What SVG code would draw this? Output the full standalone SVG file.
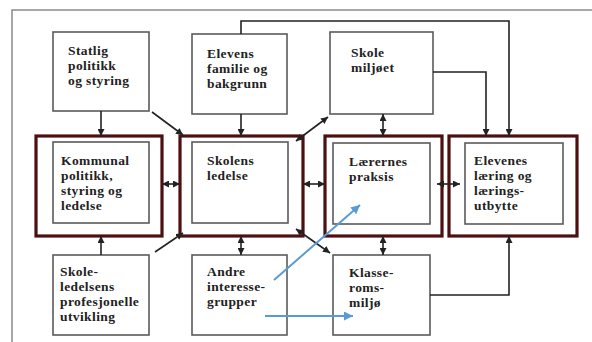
<svg xmlns="http://www.w3.org/2000/svg" width="592" height="342" viewBox="0 0 592 342">
<style>
.box{fill:#fff;stroke:#5a5a5a;stroke-width:1.6}
.outer{fill:#fff;stroke:#4d1010;stroke-width:3.2}
.t{font-family:"Liberation Serif","Times New Roman",serif;font-weight:bold;font-size:13.5px;letter-spacing:0.4px;fill:#222}
.c{fill:none;stroke:#222;stroke-width:1.6}
.b{fill:none;stroke:#5b9bd5;stroke-width:2}
</style>
<defs>
<marker id="a" viewBox="0 0 8 8" refX="8" refY="4" markerWidth="7" markerHeight="7" markerUnits="userSpaceOnUse" orient="auto-start-reverse"><path d="M0,0 L8,4 L0,8 z" fill="#222"/></marker>
<marker id="ab" viewBox="0 0 8 8" refX="8" refY="4" markerWidth="9" markerHeight="9" markerUnits="userSpaceOnUse" orient="auto"><path d="M0,0 L8,4 L0,8 z" fill="#5b9bd5"/></marker>
</defs>
<rect width="592" height="342" fill="#fff"/>
<path d="M12,345 V10 H595" fill="none" stroke="#8a8a8a" stroke-width="1.5"/>

<g id="statlig"><rect class="box" x="53" y="32" width="96" height="79"/><text class="t"><tspan x="68" y="55">Statlig</tspan><tspan x="68" y="70">politikk</tspan><tspan x="68" y="85">og styring</tspan></text></g>
<g id="familie"><rect class="box" x="192" y="34" width="95" height="80"/><text class="t"><tspan x="207" y="58">Elevens</tspan><tspan x="207" y="73">familie og</tspan><tspan x="207" y="88">bakgrunn</tspan></text></g>
<g id="skolemiljo"><rect class="box" x="330" y="32" width="103" height="82"/><text class="t"><tspan x="351" y="57">Skole</tspan><tspan x="351" y="72">miljøet</tspan></text></g>

<g id="kommunal"><rect class="outer" x="36" y="136" width="126" height="100"/><rect class="box" x="53" y="142" width="96" height="81"/><text class="t"><tspan x="61" y="165">Kommunal</tspan><tspan x="61" y="180">politikk,</tspan><tspan x="61" y="195">styring og</tspan><tspan x="61" y="210">ledelse</tspan></text></g>
<g id="skolens"><rect class="outer" x="180" y="136" width="123" height="100"/><rect class="box" x="192" y="142" width="96" height="81"/><text class="t"><tspan x="207" y="165">Skolens</tspan><tspan x="207" y="180">ledelse</tspan></text></g>
<g id="laerernes"><rect class="outer" x="325" y="136" width="117" height="100"/><rect class="box" x="333" y="143" width="97" height="81"/><text class="t"><tspan x="349" y="166">Lærernes</tspan><tspan x="349" y="181">praksis</tspan></text></g>
<g id="elevenes"><rect class="outer" x="449" y="136" width="128" height="100"/><rect class="box" x="465" y="143" width="98" height="81"/><text class="t"><tspan x="474" y="165">Elevenes</tspan><tspan x="474" y="180">læring og</tspan><tspan x="474" y="195">lærings-</tspan><tspan x="474" y="210">utbytte</tspan></text></g>

<g id="skoleledelsens"><rect class="box" x="53" y="255" width="96" height="80"/><text class="t"><tspan x="60" y="276">Skole-</tspan><tspan x="60" y="291">ledelsens</tspan><tspan x="60" y="306">profesjonelle</tspan><tspan x="60" y="321">utvikling</tspan></text></g>
<g id="andre"><rect class="box" x="192" y="255" width="95" height="80"/><text class="t"><tspan x="207" y="276">Andre</tspan><tspan x="207" y="291">interesse-</tspan><tspan x="207" y="306">grupper</tspan></text></g>
<g id="klasse"><rect class="box" x="333" y="255" width="97" height="80"/><text class="t"><tspan x="349" y="277">Klasse-</tspan><tspan x="349" y="292">roms-</tspan><tspan x="349" y="307">miljø</tspan></text></g>

<g id="connectors">
<path class="c" d="M101,111 V136" marker-end="url(#a)"/>
<path class="c" d="M152,112 L183,135" marker-end="url(#a)"/>
<path class="c" d="M241,114 V136" marker-end="url(#a)"/>
<path class="c" d="M241,34 V21 H509 V136" marker-end="url(#a)"/>
<path class="c" d="M433,72 H486 V136" marker-end="url(#a)"/>
<path class="c" d="M162,184 H180" marker-start="url(#a)" marker-end="url(#a)"/>
<path class="c" d="M303,184 H325" marker-start="url(#a)" marker-end="url(#a)"/>
<path class="c" d="M437,184 H460" marker-start="url(#a)" marker-end="url(#a)"/>
<path class="c" d="M296,141 L328,117" marker-start="url(#a)" marker-end="url(#a)"/>
<path class="c" d="M383,114 V136" marker-start="url(#a)" marker-end="url(#a)"/>
<path class="c" d="M101,255 V236" marker-end="url(#a)"/>
<path class="c" d="M155,252 L183,233" marker-end="url(#a)"/>
<path class="c" d="M241,236 V255" marker-start="url(#a)" marker-end="url(#a)"/>
<path class="c" d="M296,229 L330,253" marker-start="url(#a)" marker-end="url(#a)"/>
<path class="c" d="M383,236 V255" marker-start="url(#a)" marker-end="url(#a)"/>
<path class="c" d="M430,295 H509 V236" marker-end="url(#a)"/>
<path class="b" d="M274,280 L360,205" marker-end="url(#ab)"/>
<path class="b" d="M265,316 H353" marker-end="url(#ab)"/>
</g>
</svg>
